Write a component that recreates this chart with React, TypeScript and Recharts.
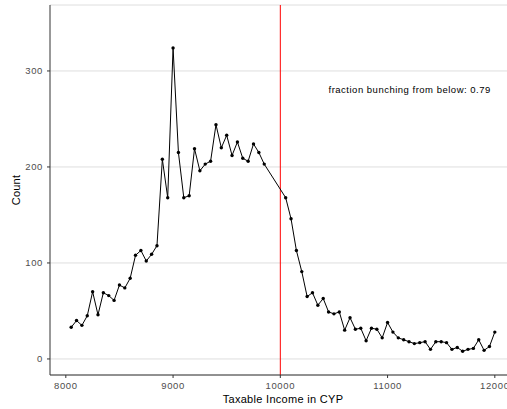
import { LineChart, Line, XAxis, YAxis, CartesianGrid, ReferenceLine, ReferenceDot } from "recharts"

// income bins (CYP) and counts per bin
const incomeBins = [
    8050, 8100, 8150, 8200, 8250, 8300, 8350, 8400, 8450, 8500,
    8550, 8600, 8650, 8700, 8750, 8800, 8850, 8900, 8950, 9000,
    9050, 9100, 9150, 9200, 9250, 9300, 9350, 9400, 9450, 9500,
    9550, 9600, 9650, 9700, 9750, 9800, 9850,
    10050, 10100, 10150, 10200, 10250, 10300, 10350, 10400, 10450, 10500,
    10550, 10600, 10650, 10700, 10750, 10800, 10850, 10900, 10950, 11000,
    11050, 11100, 11150, 11200, 11250, 11300, 11350, 11400, 11450, 11500,
    11550, 11600, 11650, 11700, 11750, 11800, 11850, 11900, 11950, 12000,
]

const counts = [
    33, 40, 35, 45, 70, 46, 69, 66, 61, 77,
    74, 84, 108, 113, 102, 109, 118, 208, 168, 324,
    215, 168, 170, 219, 196, 203, 206, 244, 220, 233,
    212, 226, 209, 206, 224, 215, 203,
    168, 146, 113, 91, 65, 69, 56, 63, 49, 47,
    49, 30, 43, 31, 32, 19, 32, 31, 22, 38,
    28, 22, 20, 18, 16, 17, 18, 10, 18, 18,
    17, 10, 12, 8, 10, 11, 20, 9, 13, 28,
]

const xTicks = [8000, 9000, 10000, 11000, 12000]
const yTicks = [0, 100, 200, 300]

const threshold = 10000
const annotationText = "fraction bunching from below: 0.79"
const annotationAt = { x: 11206, y: 281 }

const data = incomeBins.map((income, i) => ({ income, count: counts[i] }))

const font = "'Liberation Sans', Arial, sans-serif"
const tickStyle = { fill: "#4d4d4d", fontSize: 9.5, fontFamily: font, letterSpacing: 0.6 }

function CountLabel(props: any) {
    const vb = props.viewBox
    const cx = vb.x + 15.5
    const cy = vb.y + vb.height / 2
    return (
        <text
            x={cx}
            y={cy}
            transform={`rotate(-90, ${cx}, ${cy})`}
            textAnchor="middle"
            dominantBaseline="central"
            fontSize={11}
            letterSpacing={0.2}
            fill="#000"
            fontFamily={font}
        >
            Count
        </text>
    )
}

export default function App() {
    return (
        <div style={{ position: "absolute", left: 0, top: 0, width: 507, height: 409, overflow: "hidden", background: "#fff" }}>
            <LineChart width={516} height={409} data={data} margin={{ top: 5, right: 0, left: 0, bottom: 0 }}>
                <CartesianGrid stroke="#dedede" strokeWidth={1} vertical={false} />
                <XAxis
                    dataKey="income"
                    type="number"
                    domain={[7852.5, 12197.5]}
                    ticks={xTicks}
                    allowDataOverflow
                    height={34}
                    tickSize={3}
                    tickMargin={4}
                    stroke="#333"
                    tick={tickStyle}
                    label={{
                        value: "Taxable Income in CYP",
                        position: "insideBottom",
                        offset: 6,
                        fill: "#000",
                        fontSize: 11,
                        letterSpacing: 0.3,
                        fontFamily: font,
                    }}
                />
                <YAxis
                    type="number"
                    domain={[-16.7, 368.7]}
                    ticks={yTicks}
                    allowDataOverflow
                    width={50}
                    tickSize={3}
                    tickMargin={4}
                    stroke="#333"
                    tick={tickStyle}
                    label={<CountLabel />}
                />
                <ReferenceLine x={threshold} stroke="#ff0000" strokeWidth={1} />
                <Line
                    type="linear"
                    dataKey="count"
                    stroke="#000"
                    strokeWidth={1}
                    dot={{ r: 1.7, fill: "#000", stroke: "none" }}
                    activeDot={false}
                    isAnimationActive={false}
                />
                <ReferenceDot
                    x={annotationAt.x}
                    y={annotationAt.y}
                    r={0}
                    fill="none"
                    stroke="none"
                    label={{
                        value: annotationText,
                        position: "center",
                        fill: "#000",
                        fontSize: 9.5,
                        letterSpacing: 0.5,
                        fontFamily: font,
                    }}
                />
            </LineChart>
        </div>
    )
}
